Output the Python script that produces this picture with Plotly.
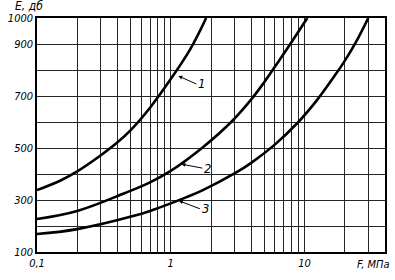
import math
import plotly.graph_objects as go

# Curve data (F in MPa, E in dB)
F1 = [0.1, 0.15, 0.2, 0.3, 0.4, 0.5, 0.7, 1.0, 1.4, 1.84]
E1 = [338, 375, 410, 472, 522, 568, 655, 765, 880, 1000]

F2 = [0.1, 0.2, 0.45, 0.7, 1.0, 1.74, 2.88, 4.0, 5.0, 6.3, 7.9, 10.5]
E2 = [227, 258, 326, 368, 412, 503, 604, 687, 753, 828, 903, 1000]

F3 = [0.1, 0.2, 0.54, 0.7, 1.0, 1.3, 1.74, 3.0, 4.0, 6.0, 9.0, 12.4, 16.4, 20.0, 25.0, 30.0]
E3 = [169, 188, 240, 258, 287, 310, 338, 402, 443, 513, 600, 684, 770, 835, 920, 1000]

curve_labels = ["1", "2", "3"]

x_grid = [0.1, 0.2, 0.3, 0.4, 0.5, 0.6, 0.7, 0.8, 0.9,
          1, 2, 3, 4, 5, 6, 7, 8, 9,
          10, 20, 30, 40]
x_tick_text = {0.1: "0,1", 1: "1", 10: "10"}

y_grid = [100, 200, 300, 400, 500, 600, 700, 800, 900, 1000]
y_tick_text = {100: "100", 300: "300", 500: "500", 700: "700", 900: "900", 1000: "1000"}

FONT = "DejaVu Sans Condensed"
fig = go.Figure()
for F, E in [(F1, E1), (F2, E2), (F3, E3)]:
    fig.add_trace(go.Scatter(x=F, y=E, mode="lines",
                             line=dict(color="black", width=2.6, shape="spline", smoothing=1.1),
                             showlegend=False, hoverinfo="skip"))

grid_col = "#262626"
fig.update_xaxes(type="log", range=[math.log10(0.1), math.log10(40)],
                 tickvals=x_grid, ticktext=[x_tick_text.get(v, "") for v in x_grid],
                 showgrid=True, gridcolor=grid_col, gridwidth=1,
                 showline=True, linecolor="black", linewidth=1.5, mirror=True,
                 ticks="", zeroline=False,
                 tickfont=dict(family=FONT, size=11, color="black", style="italic"))
fig.update_yaxes(range=[100, 1000],
                 tickvals=y_grid, ticktext=[y_tick_text.get(v, "") for v in y_grid],
                 showgrid=True, gridcolor=grid_col, gridwidth=1,
                 showline=True, linecolor="black", linewidth=1.5, mirror=True,
                 ticks="", zeroline=False,
                 tickfont=dict(family=FONT, size=11, color="black", style="italic"))

# curve labels with arrows
label_pts = [(1.14, 777, 18, 8), (1.2, 438, 21, 4), (1.15, 297, 21, 8)]
for lab, (fx, ey, ax, ay) in zip(curve_labels, label_pts):
    fig.add_annotation(x=math.log10(fx), y=ey, text=lab, showarrow=True,
                       arrowhead=2, arrowsize=0.8, arrowwidth=1, arrowcolor="black",
                       ax=ax, ay=ay, xanchor="left",
                       font=dict(family=FONT, size=13, color="black", style="italic"))

fig.add_annotation(xref="paper", yref="paper", x=-0.07, y=1.0, yshift=3,
                   xanchor="left", yanchor="bottom", text="E, дб", showarrow=False,
                   font=dict(family=FONT, size=12, color="black", style="italic"))
fig.add_annotation(xref="paper", yref="paper", x=1.02, y=0, yshift=-4,
                   xanchor="right", yanchor="top", text="F, МПа", showarrow=False,
                   font=dict(family=FONT, size=11, color="black", style="italic"))

fig.update_layout(width=395, height=280,
                  margin=dict(l=30, r=8, t=18, b=28),
                  paper_bgcolor="white", plot_bgcolor="white")
fig.write_html("out.html")
